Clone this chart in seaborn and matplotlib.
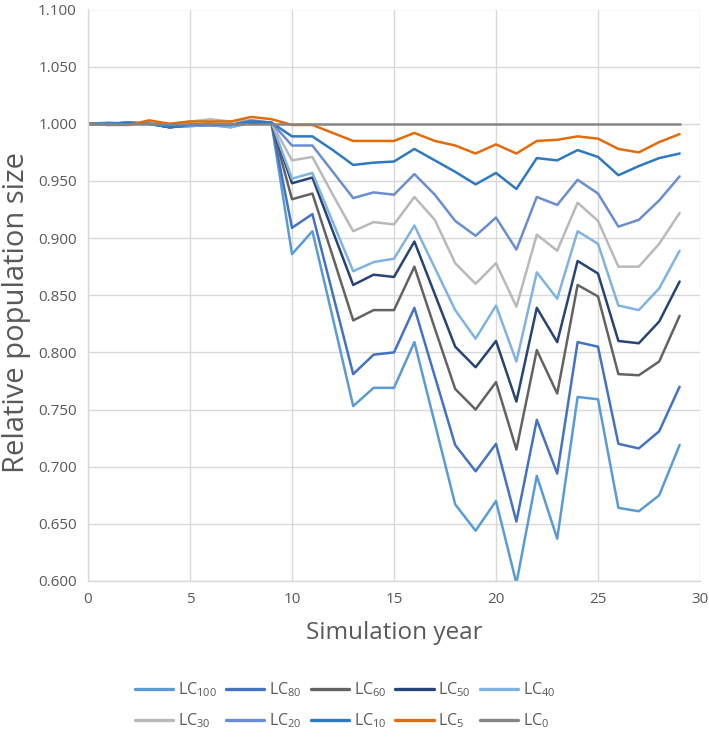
import pandas as pd
import matplotlib
matplotlib.use('Agg')
import matplotlib.pyplot as plt
import seaborn as sns

# --- dados ---
anos = list(range(30))

lc100 = [1.000, 0.999, 1.000, 1.001, 0.997, 0.999, 0.999, 0.997, 1.001, 1.000,
         0.886, 0.906, 0.830, 0.753, 0.769, 0.769, 0.809, 0.738, 0.667, 0.644,
         0.670, 0.598, 0.692, 0.637, 0.761, 0.759, 0.664, 0.661, 0.675, 0.719]
lc80 = [1.000, 1.000, 1.001, 1.000, 0.997, 0.998, 0.999, 0.998, 1.002, 1.000,
        0.909, 0.921, 0.851, 0.781, 0.798, 0.800, 0.839, 0.779, 0.719, 0.696,
        0.720, 0.652, 0.741, 0.694, 0.809, 0.805, 0.720, 0.716, 0.731, 0.770]
lc60 = [1.000, 1.000, 1.000, 1.001, 0.998, 0.999, 1.000, 0.999, 1.002, 1.000,
        0.934, 0.939, 0.884, 0.828, 0.837, 0.837, 0.875, 0.821, 0.768, 0.750,
        0.774, 0.715, 0.802, 0.764, 0.859, 0.849, 0.781, 0.780, 0.792, 0.832]
lc50 = [1.000, 1.000, 1.001, 1.000, 0.997, 0.999, 0.999, 0.998, 1.001, 1.000,
        0.948, 0.953, 0.906, 0.859, 0.868, 0.866, 0.897, 0.851, 0.805, 0.787,
        0.810, 0.757, 0.839, 0.809, 0.880, 0.869, 0.810, 0.808, 0.827, 0.862]
lc40 = [1.000, 1.000, 1.001, 1.000, 0.998, 0.998, 0.999, 0.997, 1.002, 1.001,
        0.952, 0.957, 0.914, 0.871, 0.879, 0.882, 0.911, 0.874, 0.837, 0.812,
        0.841, 0.792, 0.870, 0.847, 0.906, 0.895, 0.841, 0.837, 0.856, 0.889]
lc30 = [1.000, 1.000, 1.000, 1.001, 1.000, 1.002, 1.004, 1.002, 1.003, 1.001,
        0.968, 0.971, 0.938, 0.906, 0.914, 0.912, 0.936, 0.916, 0.878, 0.860,
        0.878, 0.840, 0.903, 0.889, 0.931, 0.915, 0.875, 0.875, 0.895, 0.922]
lc20 = [1.000, 1.001, 1.000, 1.000, 0.998, 0.999, 1.000, 0.999, 1.003, 1.001,
        0.981, 0.981, 0.958, 0.935, 0.940, 0.938, 0.956, 0.938, 0.915, 0.902,
        0.918, 0.890, 0.936, 0.929, 0.951, 0.939, 0.910, 0.916, 0.933, 0.954]
lc10 = [1.000, 1.000, 1.001, 1.000, 0.997, 0.999, 0.999, 0.999, 1.002, 1.001,
        0.989, 0.989, 0.977, 0.964, 0.966, 0.967, 0.978, 0.968, 0.958, 0.947,
        0.957, 0.943, 0.970, 0.968, 0.977, 0.971, 0.955, 0.963, 0.970, 0.974]
lc5 = [1.000, 0.999, 0.999, 1.003, 1.000, 1.002, 1.002, 1.002, 1.006, 1.004,
       0.999, 0.999, 0.992, 0.985, 0.985, 0.985, 0.992, 0.985, 0.981, 0.974,
       0.982, 0.974, 0.985, 0.986, 0.989, 0.987, 0.978, 0.975, 0.984, 0.991]
lc0 = [1.000, 1.000, 1.000, 1.000, 1.000, 1.000, 1.000, 1.000, 1.000, 1.000,
       1.000, 1.000, 1.000, 1.000, 1.000, 1.000, 1.000, 1.000, 1.000, 1.000,
       1.000, 1.000, 1.000, 1.000, 1.000, 1.000, 1.000, 1.000, 1.000, 1.000]

nomes = ['LC100', 'LC80', 'LC60', 'LC50', 'LC40', 'LC30', 'LC20', 'LC10', 'LC5', 'LC0']
series = [lc100, lc80, lc60, lc50, lc40, lc30, lc20, lc10, lc5, lc0]
cores = ['#5B9BD5', '#4472C4', '#636363', '#264478', '#7FB3E3',
         '#B9B9B9', '#6A8ED2', '#2E79C2', '#E36C09', '#858585']

# tabela longa para o seaborn
df = pd.concat([pd.DataFrame({'ano': anos, 'valor': v, 'serie': n})
                for n, v in zip(nomes, series)], ignore_index=True)

# --- gráfico ---
sns.set_theme(style='white')
plt.rcParams['font.family'] = ['Open Sans', 'DejaVu Sans']
plt.rcParams['mathtext.fontset'] = 'custom'
plt.rcParams['mathtext.rm'] = 'Open Sans'
plt.rcParams['mathtext.it'] = 'Open Sans'
texto = '#595959'

fig = plt.figure(figsize=(7.09, 7.40), dpi=100)
ax = fig.add_axes([88 / 709, 1 - 581 / 740, 612 / 709, 571.5 / 740])

sns.lineplot(data=df, x='ano', y='valor', hue='serie', hue_order=nomes,
             palette=dict(zip(nomes, cores)), linewidth=1.8, ax=ax,
             legend=False)

ax.set_xlim(0, 30)
ax.set_ylim(0.6, 1.1)
ax.set_xticks(range(0, 31, 5))
ax.set_yticks([0.6 + 0.05 * i for i in range(11)])
ax.set_yticklabels([f'{0.6 + 0.05 * i:.3f}' for i in range(11)])
ax.grid(True, color='#D9D9D9', linewidth=1.0)
ax.set_axisbelow(True)
for lado in ['top', 'right']:
    ax.spines[lado].set_visible(False)
for lado in ['left', 'bottom']:
    ax.spines[lado].set_color('#D9D9D9')
    ax.spines[lado].set_linewidth(1.0)
ax.tick_params(axis='both', length=0, labelsize=11, labelcolor=texto, pad=8)

ax.set_xlabel('Simulation year', fontsize=17.5, color=texto, labelpad=10)
ax.set_ylabel('Relative population size', fontsize=21, color=texto)
ax.yaxis.set_label_coords(-0.093, 0.47)

# legenda em 2 linhas, ordem por linha
rotulos = ['LC$_{' + n[2:] + '}$' for n in nomes]
alcas = [plt.Line2D([], [], color=c, linewidth=2.4) for c in cores]
ordem = [0, 5, 1, 6, 2, 7, 3, 8, 4, 9]
fig.legend([alcas[i] for i in ordem], [rotulos[i] for i in ordem],
           loc='center', bbox_to_anchor=(0.487, 0.047), ncol=5,
           frameon=False, fontsize=11.5, labelcolor=texto,
           handlelength=2.4, handletextpad=0.3, columnspacing=0.55,
           labelspacing=0.75)

fig.savefig('out.png', dpi=100)
